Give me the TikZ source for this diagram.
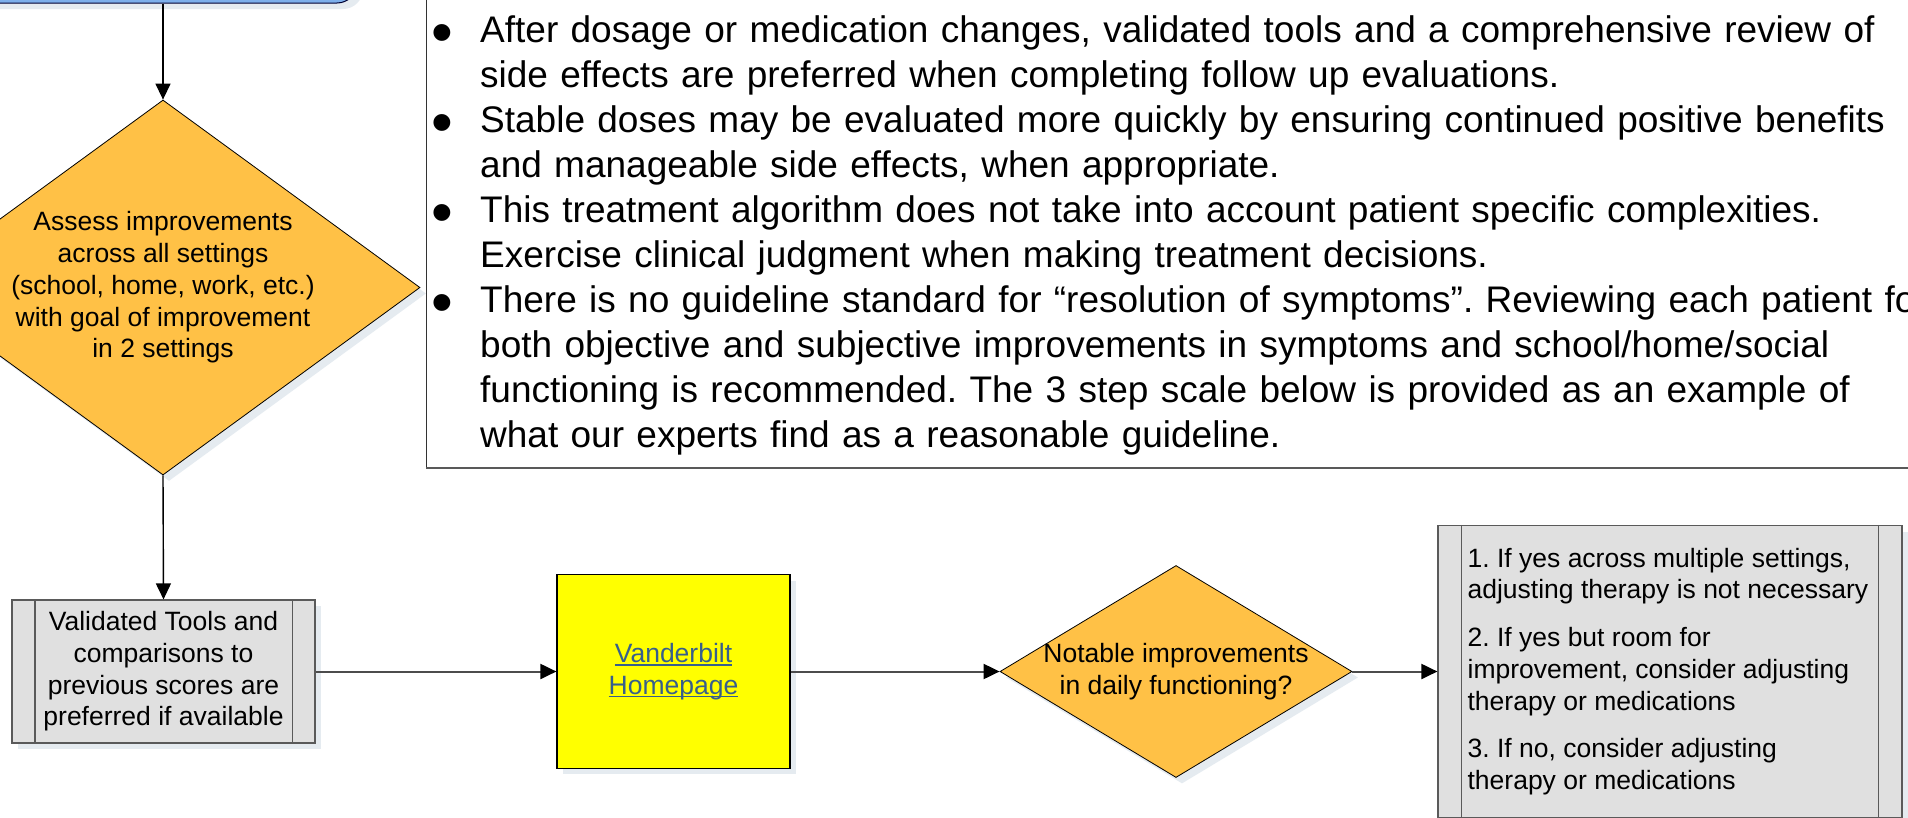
\documentclass[tikz,border=0pt]{standalone}
\usepackage{fontspec}
\setmainfont{Liberation Sans}
\usetikzlibrary{shapes.geometric,arrows.meta,shadows}
\definecolor{orng}{RGB}{255,193,70}
\definecolor{lgray}{RGB}{224,224,224}
\definecolor{bgray}{RGB}{90,90,90}
\definecolor{shc}{RGB}{229,235,240}
\definecolor{bluebox}{RGB}{125,175,235}
\definecolor{linkc}{RGB}{55,95,140}
\definecolor{yel}{RGB}{255,255,0}
\frenchspacing
\newcommand{\linkul}[1]{\setbox0\hbox{#1}\rlap{\rule[-3.2pt]{\wd0}{1.6pt}}\box0}
\newcommand{\bul}{\makebox[47.5pt][l]{\hspace{-1pt}\raisebox{-11pt}{\fontsize{62}{45}\selectfont\textbullet}}}
\newcommand{\ind}{\hspace*{47.5pt}}
\begin{document}
\begin{tikzpicture}[x=1pt,y=-1pt,
  vshadow/.style={copy shadow={shadow xshift=6pt,shadow yshift=-6pt,draw=none,fill=shc}},
  decide/.style={diamond,draw=black,line width=0.8pt,fill=orng,inner sep=0pt,vshadow},
  procbox/.style={rectangle,draw=bgray,line width=1.2pt,fill=lgray,inner sep=0pt,vshadow},
  lbl/.style={font=\fontsize{26.5}{31.7}\selectfont,align=center,inner sep=0pt},
  vline/.style={draw=black,line width=1.4pt,-{Triangle[width=15pt,length=16pt,color=black]}},
  hline/.style={draw=black!70,line width=2pt,-{Triangle[width=15pt,length=16pt,color=black]}},
]
\useasboundingbox (0,0) rectangle (1908,817);
\clip (0,0) rectangle (1908,817);
\fill[white] (0,0) rectangle (1908,817);

% start box (top left, mostly cut off)
\node[draw=black!80!blue,line width=1pt,fill=bluebox,rounded corners=20pt,
      minimum width=388pt,minimum height=100pt,inner sep=0pt,vshadow] (start) at (163,-47) {};

% notes box
\node[draw=black!80,line width=1pt,fill=white,minimum width=1574pt,minimum height=568pt,
      anchor=south west,inner sep=0pt] (notes) at (426,468) {};
\draw[black!65,line width=2.2pt] (notes.south west) -- (notes.south east);
\node[anchor=base west,text width=1700pt,align=left,inner sep=0pt,
      font=\fontsize{37}{45}\selectfont] (notestext) at (432.5,42)
 {\bul After dosage or medication changes, validated tools and a comprehensive review of\\
  \ind side effects are preferred when completing follow up evaluations.\\
  \bul Stable doses may be evaluated more quickly by ensuring continued positive benefits\\
  \ind and manageable side effects, when appropriate.\\
  \bul This treatment algorithm does not take into account patient specific complexities.\\
  \ind Exercise clinical judgment when making treatment decisions.\\
  \bul There is no guideline standard for “resolution of symptoms”. Reviewing each patient for\\
  \ind both objective and subjective improvements in symptoms and school/home/social\\
  \ind functioning is recommended. The 3 step scale below is provided as an example of\\
  \ind what our experts find as a reasonable guideline.};

% decision 1
\node[decide,minimum width=514pt,minimum height=375pt] (d1) at (163,287.5) {};
\node[lbl] (d1text) at (d1) {Assess improvements\\across all settings\\(school, home, work, etc.)\\with goal of improvement\\in 2 settings};

% validated tools box
\node[procbox,minimum width=303pt,minimum height=143pt] (vt) at (163.5,671.5) {};
\draw[bgray,line width=1.2pt] ([xshift=23.5pt]vt.north west) -- ([xshift=23.5pt]vt.south west);
\draw[bgray,line width=1.2pt] ([xshift=-23.5pt]vt.north east) -- ([xshift=-23.5pt]vt.south east);
\node[lbl] (vttext) at (vt) {Validated Tools and\\comparisons to\\previous scores are\\preferred if available};

% Vanderbilt box
\node[draw=black,line width=1.2pt,fill=yel,minimum width=233pt,minimum height=193.5pt,
      inner sep=0pt,vshadow] (vb) at (673.5,671.5) {};
\node[lbl,text=linkc] (vbtext) at (vb) {\linkul{Vanderbilt}\\\linkul{Homepage}};

% decision 2
\node[decide,minimum width=352pt,minimum height=212pt] (d2) at (1176,671.5) {};
\node[lbl] (d2text) at (d2) {Notable improvements\\in daily functioning?};

% result box
\node[procbox,minimum width=464pt,minimum height=292pt] (rb) at (1670,671.5) {};
\draw[bgray,line width=1.2pt] ([xshift=24pt]rb.north west) -- ([xshift=24pt]rb.south west);
\draw[bgray,line width=1.2pt] ([xshift=-24pt]rb.north east) -- ([xshift=-24pt]rb.south east);
\node[lbl,align=left,anchor=west] (rbtext) at ([xshift=30pt]rb.west)
 {1. If yes across multiple settings,\\adjusting therapy is not necessary\\[16pt]
  2. If yes but room for\\improvement, consider adjusting\\therapy or medications\\[16pt]
  3. If no, consider adjusting\\therapy or medications};

% connectors
\draw[vline] (start.south) -- (d1.north);
\draw[vline] (d1.south) -- (vt.north);
\draw[hline] (vt.east) -- (vb.west);
\draw[hline] (vb.east) -- (d2.west);
\draw[hline] (d2.east) -- (rb.west);
\end{tikzpicture}
\end{document}
